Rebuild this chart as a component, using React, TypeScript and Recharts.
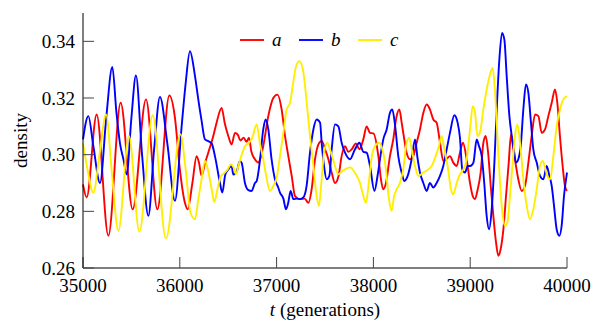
import { LineChart, Line, XAxis, YAxis, Legend, Label } from "recharts";

const T_TICKS = [35000, 36000, 37000, 38000, 39000, 40000];
const DENSITY_TICKS = [0.26, 0.28, 0.3, 0.32, 0.34];

// [generation, density]
const seriesA: [number, number][] = [
  [35000, 0.2895], [35038, 0.2849], [35141, 0.3142], [35262, 0.2714], [35389, 0.3183],
  [35513, 0.2807], [35651, 0.3195], [35768, 0.2807], [35892, 0.3209], [35950, 0.313],
  [36000, 0.295], [36053, 0.283], [36081, 0.2807], [36130, 0.29], [36174, 0.2995],
  [36198, 0.2972], [36225, 0.2925], [36260, 0.297], [36294, 0.3007], [36346, 0.3066],
  [36380, 0.3113], [36432, 0.3165], [36465, 0.311], [36501, 0.3066], [36535, 0.3036],
  [36570, 0.3077], [36600, 0.307], [36625, 0.305], [36660, 0.306], [36690, 0.3045],
  [36714, 0.306], [36740, 0.301], [36776, 0.2984], [36811, 0.2972], [36835, 0.299],
  [36862, 0.303], [36914, 0.3136], [36966, 0.32], [37008, 0.3212], [37052, 0.316],
  [37087, 0.3066], [37121, 0.2995], [37156, 0.2925], [37190, 0.2854], [37242, 0.2843],
  [37290, 0.2845], [37328, 0.283], [37362, 0.2878], [37397, 0.2984], [37441, 0.3042],
  [37466, 0.3048], [37500, 0.302], [37535, 0.2984], [37569, 0.2937], [37603, 0.29],
  [37640, 0.2925], [37672, 0.2995], [37707, 0.303], [37740, 0.301], [37776, 0.3019],
  [37820, 0.304], [37855, 0.3019], [37896, 0.3054], [37930, 0.31], [37965, 0.3077],
  [38000, 0.3075], [38051, 0.2995], [38078, 0.2913], [38102, 0.2878], [38130, 0.29],
  [38171, 0.2995], [38205, 0.3054], [38240, 0.3136], [38268, 0.316], [38292, 0.3113],
  [38319, 0.3054], [38343, 0.3007], [38378, 0.2984], [38412, 0.2995], [38447, 0.3042],
  [38481, 0.3089], [38516, 0.3148], [38550, 0.3177], [38584, 0.316], [38619, 0.3124],
  [38653, 0.3113], [38688, 0.3042], [38722, 0.2978], [38757, 0.2985], [38791, 0.2995],
  [38825, 0.2972], [38860, 0.296], [38894, 0.3007], [38925, 0.3042], [38965, 0.298],
  [38998, 0.29], [39026, 0.2854], [39050, 0.2843], [39074, 0.2872], [39108, 0.2937],
  [39136, 0.3042], [39160, 0.3066], [39185, 0.3007], [39212, 0.289], [39239, 0.2784],
  [39267, 0.269], [39291, 0.2643], [39315, 0.2667], [39343, 0.2737], [39370, 0.2854],
  [39398, 0.2972], [39422, 0.3072], [39446, 0.3019], [39473, 0.296], [39497, 0.2913],
  [39532, 0.2872], [39566, 0.289], [39601, 0.2972], [39635, 0.3066], [39670, 0.3142],
  [39704, 0.3136], [39739, 0.3077], [39773, 0.3089], [39807, 0.3136], [39842, 0.3183],
  [39876, 0.323], [39900, 0.3183], [39927, 0.3066], [39955, 0.296], [39979, 0.289],
  [40000, 0.2872],
];

const seriesB: [number, number][] = [
  [35000, 0.3054], [35055, 0.3136], [35107, 0.303], [35176, 0.29], [35240, 0.313],
  [35303, 0.331], [35345, 0.315], [35382, 0.304], [35420, 0.298], [35451, 0.293],
  [35500, 0.313], [35547, 0.328], [35610, 0.3], [35675, 0.2784], [35735, 0.302],
  [35795, 0.3204], [35871, 0.304], [35950, 0.2837], [36019, 0.31], [36060, 0.325],
  [36105, 0.3365], [36157, 0.3277], [36191, 0.3195], [36225, 0.312], [36260, 0.3054],
  [36294, 0.3048], [36329, 0.304], [36363, 0.2995], [36415, 0.29], [36439, 0.2866],
  [36470, 0.293], [36501, 0.2948], [36535, 0.296], [36553, 0.293], [36587, 0.294],
  [36621, 0.2978], [36640, 0.297], [36673, 0.29], [36708, 0.2875], [36742, 0.2872],
  [36776, 0.29], [36794, 0.2907], [36828, 0.298], [36862, 0.3089], [36886, 0.3124],
  [36914, 0.309], [36948, 0.2984], [36983, 0.2913], [37017, 0.2884], [37035, 0.2866],
  [37070, 0.2845], [37097, 0.2807], [37120, 0.283], [37145, 0.2872], [37173, 0.2843],
  [37210, 0.2845], [37242, 0.2843], [37276, 0.2849], [37310, 0.289], [37345, 0.3007],
  [37380, 0.3089], [37414, 0.3124], [37449, 0.3113], [37466, 0.304], [37490, 0.296],
  [37517, 0.2913], [37545, 0.2925], [37569, 0.3019], [37603, 0.3107], [37638, 0.31],
  [37672, 0.3042], [37707, 0.3007], [37758, 0.2984], [37810, 0.3019], [37855, 0.3042],
  [37896, 0.301], [37930, 0.3007], [37965, 0.296], [38010, 0.2872], [38045, 0.293],
  [38078, 0.3007], [38102, 0.3054], [38137, 0.3089], [38171, 0.3148], [38195, 0.316],
  [38225, 0.31], [38257, 0.2995], [38292, 0.2937], [38319, 0.2907], [38354, 0.2925],
  [38395, 0.2984], [38430, 0.3054], [38455, 0.299], [38481, 0.2937], [38516, 0.29],
  [38550, 0.2872], [38584, 0.29], [38619, 0.2884], [38653, 0.29], [38688, 0.2925],
  [38722, 0.296], [38757, 0.3019], [38791, 0.3077], [38836, 0.3139], [38870, 0.3113],
  [38894, 0.306], [38918, 0.2948], [38946, 0.2937], [38975, 0.296], [39000, 0.296],
  [39033, 0.2972], [39067, 0.3054], [39090, 0.3031], [39119, 0.2995], [39145, 0.29],
  [39170, 0.2784], [39195, 0.2737], [39222, 0.2807], [39250, 0.2972], [39274, 0.316],
  [39301, 0.3336], [39329, 0.343], [39353, 0.3406], [39377, 0.3277], [39405, 0.3136],
  [39429, 0.3066], [39450, 0.302], [39473, 0.2972], [39497, 0.2984], [39522, 0.3031],
  [39549, 0.316], [39576, 0.3248], [39601, 0.3218], [39625, 0.3124], [39652, 0.3019],
  [39687, 0.2972], [39721, 0.2925], [39756, 0.2913], [39790, 0.296], [39818, 0.2925],
  [39842, 0.289], [39866, 0.2819], [39893, 0.2737], [39921, 0.2714], [39945, 0.275],
  [39969, 0.2854], [40000, 0.2937],
];

const seriesC: [number, number][] = [
  [35000, 0.304], [35040, 0.296], [35107, 0.2866], [35170, 0.3], [35238, 0.3142],
  [35300, 0.293], [35365, 0.2731], [35475, 0.3066], [35582, 0.2728], [35720, 0.3139],
  [35857, 0.2704], [36007, 0.3072], [36060, 0.295], [36110, 0.2796], [36157, 0.2772],
  [36190, 0.284], [36225, 0.2913], [36260, 0.2978], [36295, 0.294], [36329, 0.2878],
  [36356, 0.2833], [36390, 0.288], [36425, 0.2925], [36460, 0.2935], [36494, 0.2948],
  [36528, 0.2966], [36555, 0.2955], [36580, 0.2931], [36605, 0.296], [36640, 0.3],
  [36673, 0.303], [36710, 0.304], [36749, 0.306], [36794, 0.3107], [36828, 0.304],
  [36862, 0.2984], [36896, 0.2919], [36931, 0.2872], [36966, 0.289], [37001, 0.2919],
  [37035, 0.2995], [37070, 0.3077], [37104, 0.316], [37139, 0.3183], [37166, 0.3242],
  [37201, 0.3312], [37235, 0.333], [37269, 0.3306], [37294, 0.3242], [37318, 0.316],
  [37345, 0.3066], [37380, 0.296], [37414, 0.2854], [37438, 0.2819], [37462, 0.29],
  [37490, 0.3007], [37524, 0.3042], [37560, 0.301], [37593, 0.2972], [37638, 0.2931],
  [37672, 0.294], [37707, 0.2948], [37760, 0.2955], [37810, 0.2935], [37862, 0.29],
  [37896, 0.2854], [37924, 0.283], [37952, 0.29], [37982, 0.299], [38016, 0.303],
  [38058, 0.3042], [38092, 0.3019], [38125, 0.296], [38161, 0.2843], [38188, 0.2802],
  [38214, 0.2854], [38240, 0.2878], [38274, 0.29], [38308, 0.2948], [38343, 0.3042],
  [38371, 0.306], [38395, 0.302], [38430, 0.296], [38464, 0.2925], [38516, 0.2937],
  [38567, 0.2948], [38602, 0.296], [38643, 0.2995], [38677, 0.303], [38705, 0.3066],
  [38733, 0.302], [38767, 0.296], [38801, 0.2878], [38825, 0.286], [38860, 0.29],
  [38894, 0.2931], [38929, 0.2948], [38964, 0.2985], [38998, 0.3089], [39026, 0.3171],
  [39050, 0.3148], [39074, 0.3066], [39100, 0.3077], [39136, 0.316], [39170, 0.323],
  [39205, 0.3283], [39232, 0.3306], [39255, 0.323], [39281, 0.3066], [39308, 0.29],
  [39336, 0.2784], [39360, 0.2749], [39384, 0.276], [39411, 0.2854], [39439, 0.2972],
  [39463, 0.3066], [39487, 0.3107], [39515, 0.3042], [39549, 0.2913], [39584, 0.2819],
  [39618, 0.2772], [39652, 0.2807], [39687, 0.2878], [39721, 0.296], [39749, 0.2978],
  [39773, 0.2954], [39797, 0.2925], [39825, 0.2913], [39859, 0.2995], [39893, 0.31],
  [39928, 0.316], [39962, 0.3195], [40000, 0.3207],
];

const FONT = "Liberation Serif, DejaVu Serif, serif";
const tickStyle = { fontFamily: FONT, fontSize: 19, fill: "#000" };

const toPoints = (s: [number, number][]) => s.map(([t, v]) => ({ t, v }));

function LegendContent({ payload }: any) {
  const items = payload ?? [];
  return (
    <svg width={170} height={24} style={{ display: "block" }}>
      {items.map((item: any, i: number) => (
        <g key={item.value} transform={`translate(${i * 59}, 0)`}>
          <line x1={2} x2={26} y1={11} y2={11} stroke={item.color} strokeWidth={1.9} />
          <text x={34} y={17} style={{ fontFamily: FONT, fontStyle: "italic", fontSize: 19 }}>
            {item.value}
          </text>
        </g>
      ))}
    </svg>
  );
}

export default function App() {
  return (
    <div style={{ position: "absolute", left: 0, top: 0, fontFamily: FONT }}>
      <LineChart
        width={591}
        height={323}
        margin={{ top: 13, right: 24, bottom: 0, left: 0 }}
        style={{ fontFamily: FONT }}
      >
        <XAxis
          dataKey="t"
          type="number"
          domain={[35000, 40000]}
          ticks={T_TICKS}
          height={55}
          tickSize={-11}
          tickMargin={22}
          tick={tickStyle}
          tickLine={{ stroke: "#444" }}
          axisLine={{ stroke: "#000" }}
        >
          <Label
            content={({ viewBox }: any) => (
              <text
                x={viewBox.x + viewBox.width / 2}
                y={viewBox.y + 48}
                textAnchor="middle"
                style={{ fontFamily: FONT, fontSize: 19 }}
              >
                <tspan style={{ fontStyle: "italic" }}>t</tspan> (generations)
              </text>
            )}
          />
        </XAxis>
        <XAxis
          xAxisId="top"
          orientation="top"
          type="number"
          domain={[35000, 40000]}
          height={0}
          tick={false}
          tickLine={false}
          axisLine={{ stroke: "#000" }}
        />
        <YAxis
          type="number"
          domain={[0.26, 0.35]}
          ticks={DENSITY_TICKS}
          width={83}
          tickSize={-11}
          tickMargin={19}
          tick={tickStyle}
          tickFormatter={(v: number) => v.toFixed(2)}
          tickLine={{ stroke: "#444" }}
          axisLine={{ stroke: "#000" }}
        >
          <Label
            content={({ viewBox }: any) => {
              const cx = 27;
              const cy = viewBox.y + viewBox.height / 2;
              return (
                <text
                  x={cx}
                  y={cy}
                  textAnchor="middle"
                  style={{ fontFamily: FONT, fontSize: 19 }}
                  transform={`rotate(-90, ${cx}, ${cy})`}
                >
                  density
                </text>
              );
            }}
          />
        </YAxis>
        <YAxis
          yAxisId="right"
          orientation="right"
          type="number"
          domain={[0.26, 0.35]}
          ticks={DENSITY_TICKS}
          width={0}
          tickSize={-11}
          tickFormatter={() => ""}
          tickLine={{ stroke: "#444" }}
          axisLine={{ stroke: "#000" }}
        />
        <Legend
          layout="vertical"
          verticalAlign="middle"
          align="center"
          wrapperStyle={{ left: 238, top: 29, width: 170, height: 24 }}
          content={<LegendContent />}
        />
        <Line
          data={toPoints(seriesA)}
          dataKey="v"
          name="a"
          type="monotone"
          stroke="#ff0000"
          strokeWidth={1.9}
          dot={false}
          activeDot={false}
          isAnimationActive={false}
        />
        <Line
          data={toPoints(seriesB)}
          dataKey="v"
          name="b"
          type="monotone"
          stroke="#0000ff"
          strokeWidth={1.9}
          dot={false}
          activeDot={false}
          isAnimationActive={false}
        />
        <Line
          data={toPoints(seriesC)}
          dataKey="v"
          name="c"
          type="monotone"
          stroke="#ffee00"
          strokeWidth={1.9}
          dot={false}
          activeDot={false}
          isAnimationActive={false}
        />
      </LineChart>
    </div>
  );
}
